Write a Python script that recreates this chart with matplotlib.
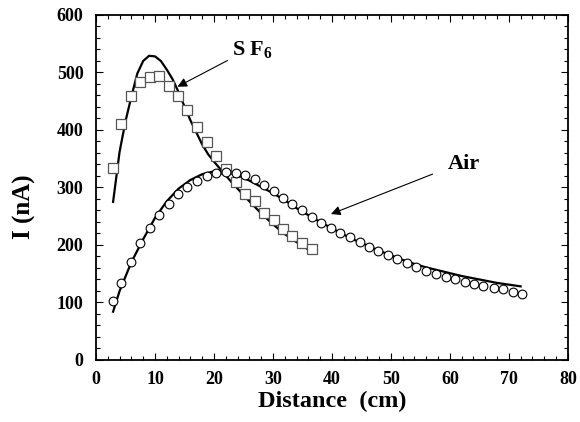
import matplotlib
matplotlib.use("Agg")
import matplotlib.pyplot as plt
from matplotlib.ticker import MultipleLocator

plt.rcParams["font.family"] = ["Liberation Serif", "DejaVu Serif"]
plt.rcParams["font.weight"] = "bold"
plt.rcParams["mathtext.fontset"] = "custom"
plt.rcParams["mathtext.rm"] = "Liberation Serif:bold"
plt.rcParams["mathtext.bf"] = "Liberation Serif:bold"

# measured points, SF6 (squares)
sf6_x = [2.9, 4.3, 5.9, 7.5, 9.1, 10.7, 12.4, 13.9, 15.5, 17.2, 18.8,
         20.4, 22.0, 23.7, 25.3, 26.9, 28.5, 30.1, 31.7, 33.3, 35.0, 36.6]
sf6_y = [334, 410, 459, 484, 492, 494, 477, 459, 434, 406, 379,
         355, 332, 309, 288, 277, 255, 243, 228, 216, 203, 193]

# measured points, air (circles)
air_x = [2.9, 4.3, 5.9, 7.5, 9.1, 10.7, 12.4, 13.9, 15.5, 17.2, 18.8,
         20.4, 22.0, 23.7, 25.3, 26.9, 28.5, 30.1, 31.7, 33.3, 35.0, 36.6,
         38.2, 39.8, 41.4, 43.1, 44.7, 46.3, 47.9, 49.5, 51.1, 52.8, 54.3,
         56.0, 57.6, 59.3, 60.9, 62.5, 64.1, 65.7, 67.4, 69.0, 70.7, 72.3]
air_y = [103, 134, 170, 203, 230, 252, 271, 288, 301, 312, 320,
         326, 327, 325, 322, 315, 305, 293, 282, 272, 261, 248,
         239, 230, 221, 213, 205, 197, 190, 183, 175, 168, 162,
         155, 150, 145, 141, 136, 132, 129, 126, 123, 119, 114]

# fitted curves (solid lines)
sf6_fit_x = [2.9, 4, 5, 6, 7, 8, 9, 10, 11, 12, 13, 14, 15, 16, 17, 18,
             19, 20, 21, 22, 23, 24, 26, 28, 30, 32, 34, 35.7]
sf6_fit_y = [275, 362, 415, 458, 498, 520, 529, 528, 520, 505, 488, 466,
             441, 417, 396, 375, 358, 345, 333, 321, 309, 298, 276, 255,
             236, 219, 205, 194]

air_fit_x = [2.9, 4, 6, 8, 10, 12, 14, 16, 18, 20, 22, 24, 26, 28, 30, 32,
             34, 36, 38, 40, 42, 44, 46, 48, 50, 52, 54, 56, 58, 60, 62, 64,
             66, 68, 70, 72]
air_fit_y = [84, 120, 170, 210, 247, 276, 298, 313, 323, 328, 328, 321,
             312, 301, 290, 278, 264, 252, 240, 229, 218, 208, 199, 190,
             182, 174, 167, 161, 156, 151, 146, 142, 138, 134, 131, 128]

fig = plt.figure(figsize=(5.8, 4.22), dpi=100)
ax = fig.add_axes([0.1655, 0.147, 0.8135, 0.8175])

ax.plot(sf6_fit_x, sf6_fit_y, color="black", lw=1.6)
ax.plot(air_fit_x, air_fit_y, color="black", lw=1.6)
ax.plot(sf6_x, sf6_y, "s", ms=6.5, mfc="white", mec="#555555", mew=0.9)
ax.plot(air_x, air_y, "o", ms=6.3, mfc="white", mec="black", mew=0.8)

ax.annotate("", xy=(13.4, 473), xytext=(22.7, 523),
            arrowprops=dict(arrowstyle="-|>", color="black", lw=0.8,
                            mutation_scale=14))
ax.text(26.6, 539, r"S F$_{6}$", fontsize=16, fontweight="bold",
        ha="center", va="center")
ax.annotate("", xy=(39.4, 252), xytext=(57.5, 325),
            arrowprops=dict(arrowstyle="-|>", color="black", lw=0.8,
                            mutation_scale=14))
ax.text(62.4, 341, "Air", fontsize=16, fontweight="bold",
        ha="center", va="center")

ax.set_xlim(0, 80)
ax.set_ylim(0, 600)
ax.xaxis.set_major_locator(MultipleLocator(10))
ax.xaxis.set_minor_locator(MultipleLocator(2))
ax.yaxis.set_major_locator(MultipleLocator(100))
ax.yaxis.set_minor_locator(MultipleLocator(20))
ax.tick_params(which="both", direction="in", top=True, right=True,
               labelsize=13, width=0.8)
ax.tick_params(which="major", length=5)
ax.tick_params(axis="x", which="major", pad=8)
ax.tick_params(axis="y", which="major", pad=9)
ax.tick_params(which="minor", length=3)
for s in ax.spines.values():
    s.set_linewidth(1.3)

ax.set_xlabel("Distance  (cm)", fontsize=17.5, fontweight="bold", labelpad=2)
ax.set_ylabel("I (nA)", fontsize=18, fontweight="bold")
ax.yaxis.set_label_coords(-0.127, 0.443)

fig.savefig("out.png", dpi=100)
